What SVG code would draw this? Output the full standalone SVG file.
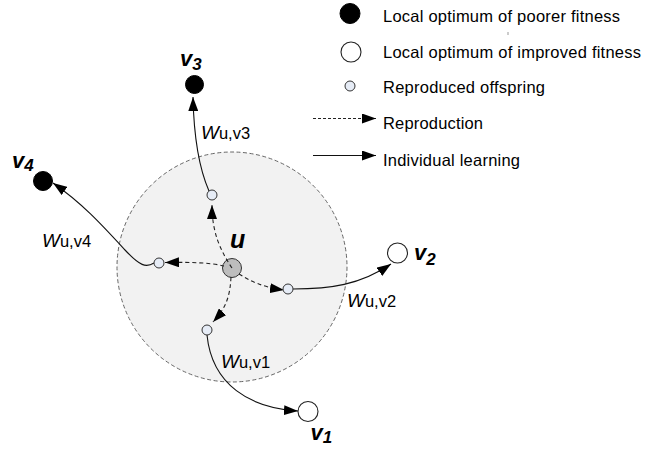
<svg xmlns="http://www.w3.org/2000/svg" width="664" height="450" viewBox="0 0 664 450">
<style>
text{font-family:"Liberation Sans",Arial,sans-serif;fill:#000}
.lg{font-size:16.5px}
.w{font-size:19px;font-style:italic}
.sub{font-size:16.5px}
.nl{font-size:22px;font-weight:bold;font-style:italic}
.ns{font-size:17px}
.dash{fill:none;stroke:#222;stroke-width:1.1;stroke-dasharray:4,3;marker-end:url(#ah)}
.solid{fill:none;stroke:#111;stroke-width:1.1;marker-end:url(#ah)}
.off{fill:#e6ecf6;stroke:#333;stroke-width:1}
.poor{fill:#000;stroke:#000;stroke-width:1}
.impr{fill:#fff;stroke:#222;stroke-width:1.1}
</style>
<defs>
<marker id="ah" markerUnits="userSpaceOnUse" viewBox="0 0 14 10" refX="14" refY="5" markerWidth="14" markerHeight="10" orient="auto">
<path d="M0,0 L14,5 L0,10 z" fill="#000"/>
</marker>
</defs>
<rect width="664" height="450" fill="#fff"/>

<g id="region">
<circle cx="232" cy="267" r="115" fill="#f2f2f2" stroke="#666" stroke-width="1" stroke-dasharray="4,2.5"/>
</g>

<g id="node-u">
<circle cx="232" cy="268" r="9.5" fill="#bdbdbd" stroke="#333" stroke-width="1"/>
<text class="nl" x="230" y="248" style="font-size:25px">u</text>
</g>

<g id="connectors">
<path class="dash" d="M232,268 C220,250 212,232 212,205"/>
<path class="dash" d="M224,266 C212,263 195,262 165,262.5"/>
<path class="dash" d="M239,274 C250,281 262,287 284,290"/>
<path class="dash" d="M231,277 C230,295 227,307 213,322"/>
<path class="solid" d="M209,191 C202,175 194,145 193,97"/>
<path class="solid" d="M154,263 C146,268 140,266 125,250 C102,225 82,203 53,183"/>
<path class="solid" d="M293,289 C330,289 360,285 391,264"/>
<path class="solid" d="M207,335 C212,385 250,408 298,411"/>
<text x="201" y="139"><tspan class="w">W</tspan><tspan class="sub">u,v3</tspan></text>
<text x="42" y="247"><tspan class="w">W</tspan><tspan class="sub">u,v4</tspan></text>
<text x="347" y="307"><tspan class="w">W</tspan><tspan class="sub">u,v2</tspan></text>
<text x="221" y="368"><tspan class="w">W</tspan><tspan class="sub">u,v1</tspan></text>
</g>

<g id="offspring-1"><circle class="off" cx="212" cy="195" r="5"/></g>
<g id="offspring-2"><circle class="off" cx="159" cy="263" r="5"/></g>
<g id="offspring-3"><circle class="off" cx="288" cy="289" r="5"/></g>
<g id="offspring-4"><circle class="off" cx="207" cy="330" r="5"/></g>

<g id="node-v3">
<circle class="poor" cx="194.5" cy="84.5" r="9"/>
<text class="nl" x="180" y="66">v<tspan class="ns" dy="4">3</tspan></text>
</g>
<g id="node-v4">
<circle class="poor" cx="43" cy="181" r="9.5"/>
<text class="nl" x="12" y="168">v<tspan class="ns" dy="3">4</tspan></text>
</g>
<g id="node-v2">
<circle class="impr" cx="397.5" cy="253" r="10"/>
<text class="nl" x="414" y="260">v<tspan class="ns" dy="5">2</tspan></text>
</g>
<g id="node-v1">
<circle class="impr" cx="308" cy="411.5" r="10"/>
<text class="nl" x="310.5" y="440">v<tspan class="ns" dy="3">1</tspan></text>
</g>

<g id="legend">
<circle class="poor" cx="350" cy="13.5" r="10"/>
<text class="lg" x="383" y="22" textLength="237" lengthAdjust="spacing">Local optimum of poorer fitness</text>
<line x1="508" y1="32" x2="508" y2="35" stroke="#999" stroke-width="1"/>
<circle class="impr" cx="351" cy="52" r="10"/>
<text class="lg" x="383" y="57.5" textLength="258" lengthAdjust="spacing">Local optimum of improved fitness</text>
<circle class="off" cx="350" cy="86" r="5"/>
<text class="lg" x="383" y="92.5" textLength="162" lengthAdjust="spacing">Reproduced offspring</text>
<line x1="313" y1="118.5" x2="376" y2="118.5" stroke="#222" stroke-width="1" stroke-dasharray="3,2" marker-end="url(#ah)"/>
<text class="lg" x="383" y="128.5" textLength="100" lengthAdjust="spacing">Reproduction</text>
<line x1="313" y1="155.5" x2="376" y2="155.5" stroke="#111" stroke-width="1.1" marker-end="url(#ah)"/>
<text class="lg" x="383" y="166" textLength="137" lengthAdjust="spacing">Individual learning</text>
</g>
</svg>
